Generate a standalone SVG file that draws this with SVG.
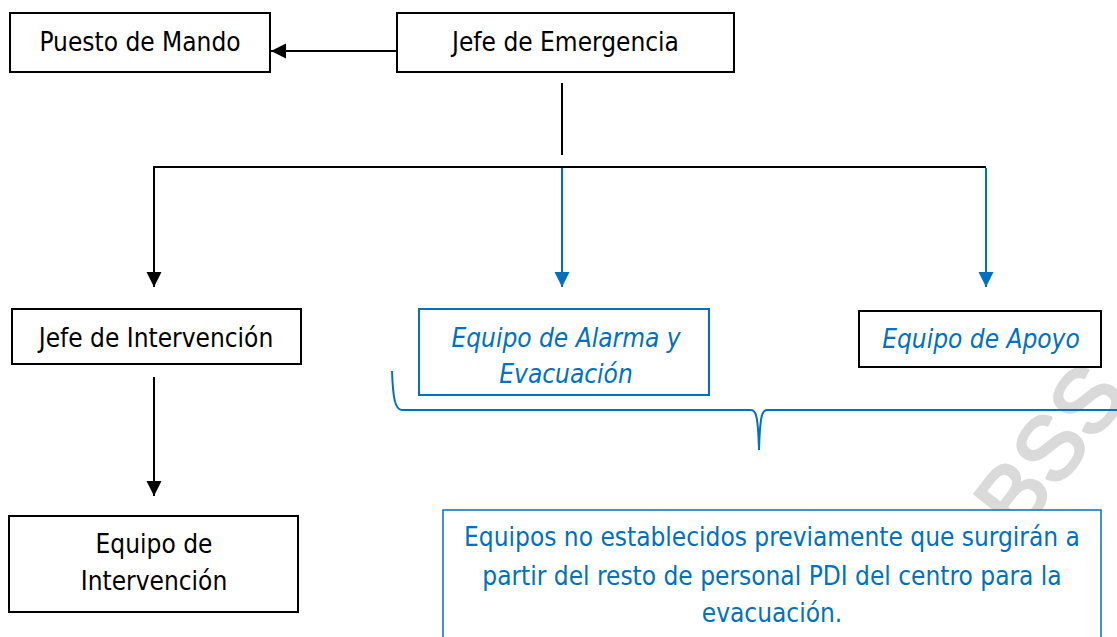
<svg xmlns="http://www.w3.org/2000/svg" width="1117" height="637" viewBox="0 0 1117 637">
<style>
.box{fill:#fff;stroke:#000;stroke-width:2}
.bbox{fill:#fff;stroke:#0070C0;stroke-width:2}
.t{font-family:"DejaVu Sans Condensed","DejaVu Sans",sans-serif;font-size:26px;fill:#000;text-anchor:middle}
.tb{fill:#0070C0}
.it{font-style:italic}
.ln{fill:none;stroke:#000;stroke-width:2}
.lb{fill:none;stroke:#0070C0;stroke-width:2}
.wm{font-family:"Liberation Sans",sans-serif;font-size:90px;fill:#dadada;stroke:#dadada;stroke-width:3;stroke-linejoin:round}
</style>
<defs>
<marker id="ak" markerUnits="userSpaceOnUse" markerWidth="16" markerHeight="16" refX="15" refY="7.5" orient="auto"><path d="M0,0 L15,7.5 L0,15 z" fill="#000"/></marker>
<marker id="ab" markerUnits="userSpaceOnUse" markerWidth="16" markerHeight="16" refX="15" refY="7.5" orient="auto"><path d="M0,0 L15,7.5 L0,15 z" fill="#0070C0"/></marker>
</defs>
<rect width="1117" height="637" fill="#fff"/>
<text class="wm" x="982" y="585" transform="rotate(-52 982 585)">ABSS</text>
<g id="connectors">
<line class="ln" x1="397" y1="51" x2="271" y2="51" marker-end="url(#ak)"/>
<line class="ln" x1="562" y1="83" x2="562" y2="155"/>
<polyline class="ln" points="154,287 154,167 986,167"/>
<line class="ln" x1="154" y1="167" x2="154" y2="287" marker-end="url(#ak)"/>
<line class="lb" x1="562" y1="168" x2="562" y2="287" marker-end="url(#ab)"/>
<line class="lb" x1="986" y1="168" x2="986" y2="287" marker-end="url(#ab)"/>
<line class="ln" x1="154" y1="377" x2="154" y2="496" marker-end="url(#ak)"/>
<path class="lb" d="M392,371 C393,398 395,410 402,410 L751,410 C756,410 758,416 759,450 C760,416 762,410 767,410 L1117,410"/>
</g>
<g id="puesto-mando">
<rect class="box" x="10" y="13" width="260" height="59"/>
<text class="t" x="140" y="51">Puesto de Mando</text>
</g>
<g id="jefe-emergencia">
<rect class="box" x="397" y="13" width="337" height="59"/>
<text class="t" x="565.5" y="51">Jefe de Emergencia</text>
</g>
<g id="jefe-intervencion">
<rect class="box" x="12" y="309" width="289" height="55"/>
<text class="t" x="156" y="347">Jefe de Intervención</text>
</g>
<g id="equipo-alarma">
<rect class="bbox" x="419" y="309" width="290" height="86"/>
<text class="t tb it" x="566" y="347">Equipo de Alarma y</text>
<text class="t tb it" x="566" y="383">Evacuación</text>
</g>
<g id="equipo-apoyo">
<rect class="box" x="859" y="311" width="242" height="56"/>
<text class="t tb it" x="981" y="348">Equipo de Apoyo</text>
</g>
<g id="equipo-intervencion">
<rect class="box" x="9" y="516" width="289" height="96"/>
<text class="t" x="154" y="553">Equipo de</text>
<text class="t" x="154" y="590">Intervención</text>
</g>
<g id="equipos-no-establecidos">
<rect class="bbox" x="443" y="510" width="658" height="140" style="stroke-width:1.5"/>
<text class="t tb" x="772" y="546">Equipos no establecidos previamente que surgirán a</text>
<text class="t tb" x="772" y="585">partir del resto de personal PDI del centro para la</text>
<text class="t tb" x="772" y="622">evacuación.</text>
</g>
</svg>
